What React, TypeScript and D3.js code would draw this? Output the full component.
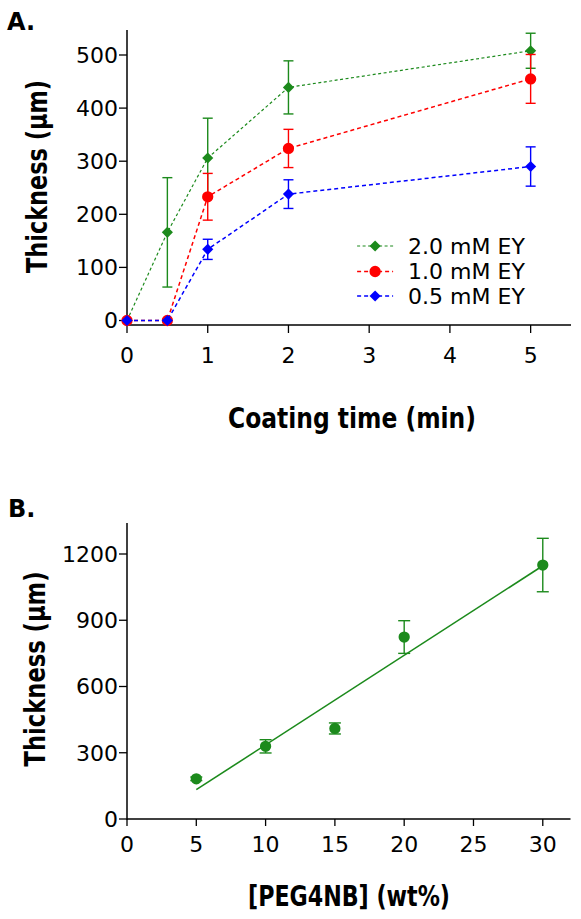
import React from "react";
import * as d3 from "d3";

// ---------- Panel A data ----------
const timeMin = [0, 0.5, 1, 2, 5];
const ey20 = [0, 166, 306, 439, 508];
const ey20Err = [0, 103, 75, 50, 33];
const ey10 = [0, 0, 233, 324, 455];
const ey10Err = [0, 0, 44, 36, 46];
const ey05 = [0, 0, 134, 238, 290];
const ey05Err = [0, 0, 19, 27, 37];
const seriesNames = ["2.0 mM EY", "1.0 mM EY", "0.5 mM EY"];
const tickAx = [0, 1, 2, 3, 4, 5];
const tickAy = [0, 100, 200, 300, 400, 500];

// ---------- Panel B data ----------
const pegWt = [5, 10, 15, 20, 30];
const pegThick = [182, 329, 410, 824, 1150];
const pegErr = [8, 30, 25, 74, 121];
const tickBx = [0, 5, 10, 15, 20, 25, 30];
const tickBy = [0, 300, 600, 900, 1200];

const FONT = "DejaVu Sans";
const GREEN = "#1c8a1c";
const RED = "#ff0000";
const BLUE = "#0000ff";

const TICK_FS = 22;
const TITLE_FS = 28;

const xA = d3.scaleLinear().domain([0, 5.5]).range([127, 571]);
const yA = d3.scaleLinear().domain([0, 500]).range([320.5, 55]);
const xB = d3.scaleLinear().domain([0, 32]).range([127, 570.5]);
const yB = d3.scaleLinear().domain([0, 1200]).range([819, 554]);

const diamond = d3.symbol().type(d3.symbolSquare).size(62)();
const circle = d3.symbol().type(d3.symbolCircle).size(100)();

type Series = { name: string; vals: number[]; err: number[]; color: string; shape: "diamond" | "circle"; width: number; dash: string };

const seriesA: Series[] = [
  { name: seriesNames[0], vals: ey20, err: ey20Err, color: GREEN, shape: "diamond", width: 1.2, dash: "3,2.5" },
  { name: seriesNames[1], vals: ey10, err: ey10Err, color: RED, shape: "circle", width: 1.5, dash: "4,3" },
  { name: seriesNames[2], vals: ey05, err: ey05Err, color: BLUE, shape: "diamond", width: 1.5, dash: "4,3" },
];

function Marker({ x, y, shape, color }: { x: number; y: number; shape: string; color: string }) {
  if (shape === "diamond") {
    return <path d={diamond} transform={`translate(${x},${y}) rotate(45)`} fill={color} />;
  }
  return <path d={circle} transform={`translate(${x},${y})`} fill={color} />;
}

function ErrorBar({ x, lo, hi, color, cap }: { x: number; lo: number; hi: number; color: string; cap: number }) {
  return (
    <g stroke={color} strokeWidth={1.4} fill="none">
      <line x1={x} x2={x} y1={lo} y2={hi} />
      <line x1={x - cap} x2={x + cap} y1={lo} y2={lo} />
      <line x1={x - cap} x2={x + cap} y1={hi} y2={hi} />
    </g>
  );
}

function PanelA() {
  const line = d3
    .line<[number, number]>()
    .x((d) => xA(d[0]))
    .y((d) => yA(d[1]));
  const axisY0 = 325;
  const legendX = xA(2.9);
  const legendRows = [246, 271.5, 296];
  return (
    <g>
      <text x={7} y={30} fontFamily={FONT} fontWeight="bold" fontSize={24}>A.</text>
      {/* axes */}
      <line x1={xA(0)} x2={xA(0)} y1={30} y2={axisY0 + 0.7} stroke="#000" strokeWidth={1.5} />
      <line x1={xA(0)} x2={xA(5.5)} y1={axisY0} y2={axisY0} stroke="#000" strokeWidth={1.5} />
      {tickAy.map((t) => (
        <g key={t}>
          <line x1={xA(0) - 8} x2={xA(0)} y1={yA(t)} y2={yA(t)} stroke="#000" strokeWidth={1.3} />
          <text x={xA(0) - 9} y={yA(t)} dy="0.36em" textAnchor="end" fontFamily={FONT} fontSize={TICK_FS}>{t}</text>
        </g>
      ))}
      {tickAx.map((t) => (
        <g key={t}>
          <line x1={xA(t)} x2={xA(t)} y1={axisY0} y2={axisY0 + 8} stroke="#000" strokeWidth={1.3} />
          <text x={xA(t)} y={363} textAnchor="middle" fontFamily={FONT} fontSize={TICK_FS}>{t}</text>
        </g>
      ))}
      <text
        transform={`translate(47,176.5) rotate(-90)`}
        textAnchor="middle"
        fontFamily={FONT}
        fontWeight="bold"
        fontSize={TITLE_FS}
        textLength={193}
        lengthAdjust="spacingAndGlyphs"
      >
        Thickness (μm)
      </text>
      <text
        x={352}
        y={428}
        textAnchor="middle"
        fontFamily={FONT}
        fontWeight="bold"
        fontSize={TITLE_FS}
        textLength={248}
        lengthAdjust="spacingAndGlyphs"
      >
        Coating time (min)
      </text>
      {/* series */}
      {seriesA.map((s) => {
        const pts = timeMin.map((t, i) => [t, s.vals[i]] as [number, number]);
        return (
          <g key={s.name}>
            <path d={line(pts) || ""} fill="none" stroke={s.color} strokeWidth={s.width} strokeDasharray={s.dash} />
            {pts.map((p, i) =>
              s.err[i] > 0 ? (
                <ErrorBar key={i} x={xA(p[0])} lo={yA(p[1] - s.err[i])} hi={yA(p[1] + s.err[i])} color={s.color} cap={5} />
              ) : null
            )}
            {pts.map((p, i) => (
              <Marker key={i} x={xA(p[0])} y={yA(p[1])} shape={s.shape} color={s.color} />
            ))}
          </g>
        );
      })}
      {/* legend */}
      {seriesA.map((s, i) => (
        <g key={s.name}>
          <line x1={legendX - 4} x2={legendX + 32} y1={legendRows[i]} y2={legendRows[i]} stroke={s.color} strokeWidth={s.width} strokeDasharray={s.dash} />
          <Marker x={legendX + 14} y={legendRows[i]} shape={s.shape} color={s.color} />
          <text x={legendX + 47} y={legendRows[i]} dy="0.36em" fontFamily={FONT} fontSize={TICK_FS}>{s.name}</text>
        </g>
      ))}
    </g>
  );
}

function PanelB() {
  const n = pegWt.length;
  const mx = d3.mean(pegWt) as number;
  const my = d3.mean(pegThick) as number;
  let sxy = 0;
  let sxx = 0;
  for (let i = 0; i < n; i++) {
    sxy += (pegWt[i] - mx) * (pegThick[i] - my);
    sxx += (pegWt[i] - mx) ** 2;
  }
  const slope = sxy / sxx;
  const icpt = my - slope * mx;
  const x0 = d3.min(pegWt) as number;
  const x1 = d3.max(pegWt) as number;
  const axisY0 = yB(0);
  return (
    <g>
      <text x={8} y={517} fontFamily={FONT} fontWeight="bold" fontSize={24}>B.</text>
      <line x1={xB(0)} x2={xB(0)} y1={523} y2={axisY0 + 0.7} stroke="#000" strokeWidth={1.5} />
      <line x1={xB(0)} x2={xB(32)} y1={axisY0} y2={axisY0} stroke="#000" strokeWidth={1.5} />
      {tickBy.map((t) => (
        <g key={t}>
          <line x1={xB(0) - 8} x2={xB(0)} y1={yB(t)} y2={yB(t)} stroke="#000" strokeWidth={1.3} />
          <text x={xB(0) - 9} y={yB(t)} dy="0.36em" textAnchor="end" fontFamily={FONT} fontSize={TICK_FS}>{t}</text>
        </g>
      ))}
      {tickBx.map((t) => (
        <g key={t}>
          <line x1={xB(t)} x2={xB(t)} y1={axisY0} y2={axisY0 + 7} stroke="#000" strokeWidth={1.3} />
          <text x={xB(t)} y={852} textAnchor="middle" fontFamily={FONT} fontSize={TICK_FS}>{t}</text>
        </g>
      ))}
      <text
        transform={`translate(45,669) rotate(-90)`}
        textAnchor="middle"
        fontFamily={FONT}
        fontWeight="bold"
        fontSize={TITLE_FS}
        textLength={195}
        lengthAdjust="spacingAndGlyphs"
      >
        Thickness (μm)
      </text>
      <text
        x={349}
        y={906}
        textAnchor="middle"
        fontFamily={FONT}
        fontWeight="bold"
        fontSize={TITLE_FS}
        textLength={202}
        lengthAdjust="spacingAndGlyphs"
      >
        [PEG4NB] (wt%)
      </text>
      <line x1={xB(x0)} x2={xB(x1)} y1={yB(icpt + slope * x0)} y2={yB(icpt + slope * x1)} stroke={GREEN} strokeWidth={1.6} />
      {pegWt.map((w, i) => (
        <g key={w}>
          <ErrorBar x={xB(w)} lo={yB(pegThick[i] - pegErr[i])} hi={yB(pegThick[i] + pegErr[i])} color={GREEN} cap={6} />
          <Marker x={xB(w)} y={yB(pegThick[i])} shape="circle" color={GREEN} />
        </g>
      ))}
    </g>
  );
}

export default function App() {
  return (
    <svg width={581} height={919} style={{ position: "absolute", left: 0, top: 0, background: "#fff" }}>
      <rect width={581} height={919} fill="#fff" />
      <PanelA />
      <PanelB />
    </svg>
  );
}
